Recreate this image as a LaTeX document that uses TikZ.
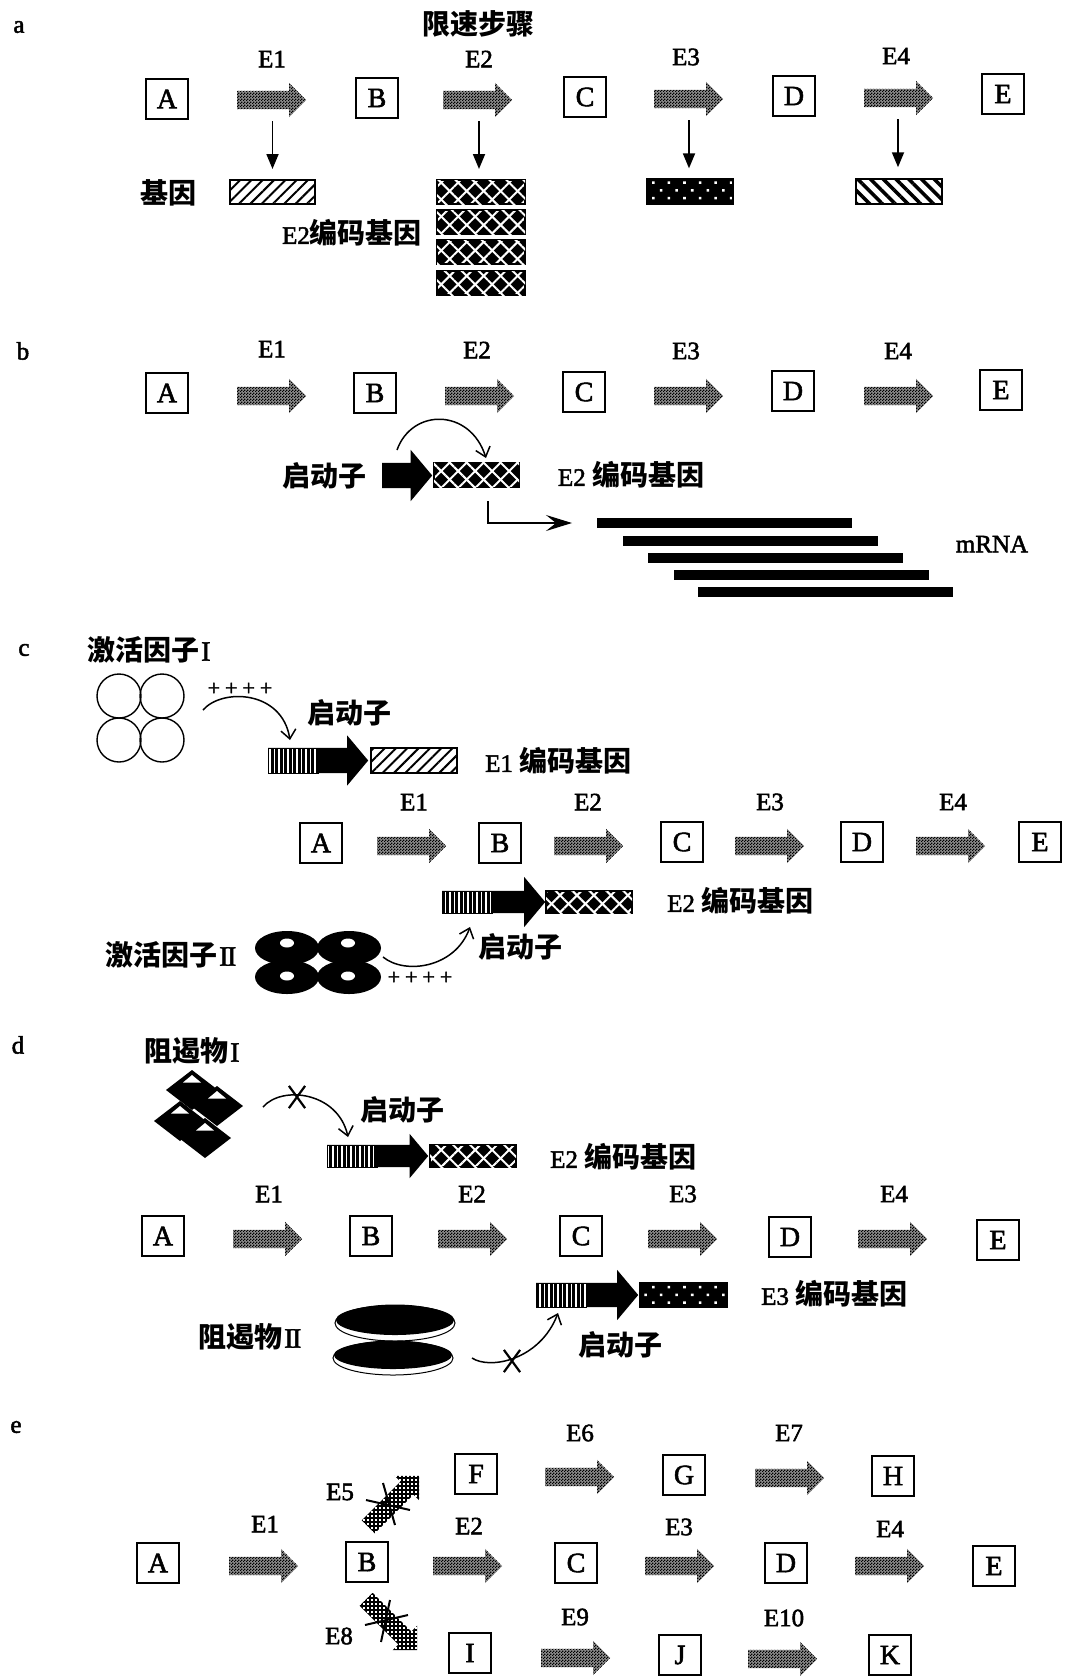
\documentclass[tikz,border=0pt]{standalone}
\usepackage{fontspec}
\setmainfont{Liberation Serif}[FakeBold=2]
\newfontfamily\cjk{Noto Sans CJK SC}
\usetikzlibrary{shapes.arrows,shapes.misc,patterns,patterns.meta,arrows.meta}
\pgfdeclarepatternformonly{checker}{\pgfpointorigin}{\pgfpoint{3pt}{3pt}}{\pgfpoint{3pt}{3pt}}{%
  \pgfpathrectangle{\pgfpointorigin}{\pgfpoint{1.5pt}{1.5pt}}%
  \pgfpathrectangle{\pgfpoint{1.5pt}{1.5pt}}{\pgfpoint{1.5pt}{1.5pt}}%
  \pgfusepath{fill}}
\pgfdeclarepatternformonly{gridfour}{\pgfpoint{-0.1pt}{-0.1pt}}{\pgfpoint{4.1pt}{4.1pt}}{\pgfpoint{4pt}{4pt}}{%
  \pgfsetlinewidth{1.4pt}%
  \pgfpathmoveto{\pgfpoint{0pt}{2pt}}\pgfpathlineto{\pgfpoint{4pt}{2pt}}%
  \pgfpathmoveto{\pgfpoint{2pt}{0pt}}\pgfpathlineto{\pgfpoint{2pt}{4pt}}%
  \pgfusepath{stroke}}
\newcommand\zhtxt[1]{{\cjk\bfseries\fontsize{28}{30}\selectfont #1}}
\begin{document}
\begin{tikzpicture}[x=1pt,y=-1pt,
 lat/.style={font=\fontsize{25}{28}\selectfont, inner sep=0pt},
 sm/.style={font=\fontsize{22}{24}\selectfont, inner sep=0pt},
 cj/.style={font=\fontsize{28}{30}\selectfont\cjk\bfseries, inner sep=0pt},
 box/.style={draw, line width=1.5pt, minimum width=42pt, minimum height=40pt, inner sep=0pt, font=\fontsize{28}{28}\selectfont},
 enz/.style={single arrow, anchor=tail, inner xsep=0pt, inner ysep=9pt, single arrow head extend=8pt, single arrow tip angle=90, minimum height=69pt, preaction={fill=black!45}, pattern=checker, pattern color=black},
 gene/.style={draw, line width=1.3pt, minimum width=86pt, minimum height=24pt, inner sep=0pt},
 gone/.style={gene, pattern={Lines[angle=45,distance=8pt,line width=2pt]}},
 gtwo/.style={gene, preaction={fill=black}, pattern={Lines[angle=45,distance=12pt,line width=2pt]}, pattern color=white,
   postaction={pattern={Lines[angle=-45,distance=12pt,line width=2pt]}, pattern color=white}},
 gthree/.style={gene, preaction={fill=black}, pattern={Dots[radius=1.8pt,distance=11pt,angle=45]}, pattern color=white},
 gfour/.style={gene, pattern={Lines[angle=-45,distance=9pt,line width=3.5pt]}},
 promo/.style={single arrow, anchor=tail, fill=black, inner xsep=0pt, single arrow tip angle=100},
 stripe/.style={draw, line width=1pt, preaction={fill=black}, pattern={Lines[angle=90,distance=4.5pt,line width=1.6pt]}, pattern color=white, inner sep=0pt},
 mbar/.style={fill=black, minimum width=255pt, minimum height=10pt, inner sep=0pt},
 dn/.style={line width=1.8pt, -{Triangle[length=15pt,width=12pt]}},
 cur/.style={line width=1.5pt, -{Straight Barb[length=9pt,width=15pt]}},
 larr/.style={line width=1.5pt, -{Stealth[length=26pt,width=16pt,inset=10pt]}},
 xmark/.style={cross out, draw, line width=2.2pt, minimum width=14pt, minimum height=20pt, inner sep=0pt},
 barred/.style={single arrow, anchor=tail, inner xsep=0pt, inner ysep=9pt, single arrow head extend=8pt, single arrow tip angle=90, minimum height=72pt, pattern=gridfour, pattern color=black}
]
\fill[white] (0,0) rectangle (1065,1676);
\useasboundingbox (0,0) rectangle (1065,1676);

% ================= panel a =================
\node[lat] (la) at (19,27) {a};
\node[cj] (arate) at (478,24) {限速步骤};
\foreach \n/\x/\y/\t in {ae1/272/59/E1, ae2/479/59/E2, ae3/686/57/E3, ae4/896/56/E4}
  \node[lat] (\n) at (\x,\y) {\t};
\node[box] (aA) at (167,99) {A};
\node[box] (aB) at (377,98) {B};
\node[box] (aC) at (585,97) {C};
\node[box] (aD) at (794,96) {D};
\node[box] (aE) at (1003,94) {E};
\node[enz] (aar1) at (237,100) {};
\node[enz] (aar2) at (443,100) {};
\node[enz] (aar3) at (654,99) {};
\node[enz] (aar4) at (864,98) {};
\node[cj] (agene) at (168,193) {基因};
\node[gone, minimum width=85pt] (ag1) at (272.5,192) {};
\node[gtwo, minimum width=88pt] (ag2a) at (481,192) {};
\node[gtwo, minimum width=88pt] (ag2b) at (481,222) {};
\node[gtwo, minimum width=88pt] (ag2c) at (481,252) {};
\node[gtwo, minimum width=88pt] (ag2d) at (481,283) {};
\node[gthree, minimum height=25pt] (ag3) at (690,191.5) {};
\node[gfour, minimum height=25pt] (ag4) at (899,191.5) {};
\node[lat] (acode) at (352,233) {E2\zhtxt{编码基因}};
\draw[dn] ([yshift=58pt]ag1.north) -- ([yshift=10pt]ag1.north);
\draw[dn] ([xshift=-2pt,yshift=58pt]ag2a.north) -- ([xshift=-2pt,yshift=10pt]ag2a.north);
\draw[dn] ([xshift=-1pt,yshift=58pt]ag3.north) -- ([xshift=-1pt,yshift=10pt]ag3.north);
\draw[dn] ([xshift=-1pt,yshift=58pt]ag4.north) -- ([xshift=-1pt,yshift=10pt]ag4.north);

% ================= panel b =================
\node[lat] (lb) at (23,351) {b};
\foreach \n/\x/\y/\t in {be1/272/349/E1, be2/477/350/E2, be3/686/351/E3, be4/898/351/E4}
  \node[lat] (\n) at (\x,\y) {\t};
\node[box] (bA) at (167,393) {A};
\node[box] (bB) at (375,393) {B};
\node[box] (bC) at (584,392) {C};
\node[box] (bD) at (793,391) {D};
\node[box] (bE) at (1001,390) {E};
\node[enz] (bar1) at (237,396) {};
\node[enz] (bar2) at (445,396) {};
\node[enz] (bar3) at (654,396) {};
\node[enz] (bar4) at (864,396) {};
\node[promo, inner ysep=12.5pt, single arrow head extend=13pt, minimum height=50pt] (bp) at (382,475.5) {};
\node[gtwo, minimum width=85pt, minimum height=25pt] (bg) at (476.5,475) {};
\node[cj] (bprom) at (324,476) {启动子};
\node[lat] (bcode) at (631,475) {E2 \zhtxt{编码基因}};
\coordinate (bcs) at (397,450);
\coordinate (bce) at (486,458);
\draw[cur] (bcs) .. controls (412,408) and (470,408) .. (bce);
\coordinate (bLe) at (572,523);
\draw[larr] ([xshift=11.5pt,yshift=-13pt]bg.south) |- (bLe);
\node[mbar] (m1) at (724.5,523) {};
\node[mbar] (m2) at (750,541) {};
\node[mbar] (m3) at (775.5,558) {};
\node[mbar] (m4) at (801,575) {};
\node[mbar] (m5) at (825.5,592) {};
\node[lat] (mrna) at (992,544) {mRNA};

% ================= panel c =================
\node[lat] (lc) at (24,650) {c};
\node[inner sep=0pt] (cact1) at (149,650) {\zhtxt{激活因子}\,\fontsize{28}{28}\selectfont I};
\foreach \cx/\cy in {119/696, 162/696, 119/740, 162/740}
  \draw[line width=1.4pt] (\cx,\cy) circle[radius=22];
\node[sm] (cpl1) at (240,689) {+\hspace{5pt}+\hspace{5pt}+\hspace{5pt}+};
\node[cj] (cprom1) at (349,713) {启动子};
\node[promo, inner ysep=12.5pt, single arrow head extend=12.5pt, minimum height=100pt] (cp1) at (268,760.5) {};
\node[stripe, minimum width=50pt, minimum height=25pt] (cs1) at (293,760.5) {};
\node[gone, minimum height=25pt] (cg1) at (414,760.5) {};
\node[lat, anchor=west] (ccode1) at (485,761) {E1 \zhtxt{编码基因}};
\coordinate (c1s) at (203,710);
\coordinate (c1e) at (290,740);
\draw[cur] (c1s) .. controls (222,688) and (282,690) .. (c1e);

\foreach \n/\x/\y/\t in {ce1/414/802/E1, ce2/588/802/E2, ce3/770/802/E3, ce4/953/802/E4}
  \node[lat] (\n) at (\x,\y) {\t};
\node[box] (cA) at (321,843) {A};
\node[box] (cB) at (500,843) {B};
\node[box] (cC) at (682,842) {C};
\node[box] (cD) at (862,842) {D};
\node[box] (cE) at (1040,842) {E};
\node[enz] (car1) at (377,846) {};
\node[enz] (car2) at (554,846) {};
\node[enz] (car3) at (735,846) {};
\node[enz] (car4) at (916,846) {};

\node[promo, inner ysep=11pt, single arrow head extend=14pt, minimum height=103pt] (cp2) at (442,902) {};
\node[stripe, minimum width=50pt, minimum height=22pt] (cs2) at (467,902) {};
\node[gtwo, minimum height=22pt] (cg2) at (589,902) {};
\node[lat, anchor=west] (ccode2) at (667,901) {E2 \zhtxt{编码基因}};
\node[inner sep=0pt] (cact2) at (171,955) {\zhtxt{激活因子}\,\fontsize{28}{28}\selectfont I\kern-1.5pt I};
\foreach \cx/\cy in {287/948, 349/948, 287/977, 349/977}
  \fill (\cx,\cy) ellipse[x radius=32, y radius=17];
\foreach \cx/\cy in {287/943, 348/943, 287/976, 348/976}
  \fill[white] (\cx,\cy) ellipse[x radius=7, y radius=4.5];
\coordinate (c2s) at (383,957);
\coordinate (c2e) at (470,927);
\draw[cur] (c2s) .. controls (405,975) and (455,968) .. (c2e);
\node[sm] (cpl2) at (420,978) {+\hspace{5pt}+\hspace{5pt}+\hspace{5pt}+};
\node[cj] (cprom2) at (520,947) {启动子};

% ================= panel d =================
\node[lat] (ld) at (18,1045) {d};
\node[inner sep=0pt] (drep1) at (192,1051) {\zhtxt{阻遏物}\,\fontsize{28}{28}\selectfont I};
\foreach \cx/\ty in {192/1070, 217/1086, 180/1101, 205/1118}
  \fill (\cx,\ty) -- (\cx+26,\ty+20) -- (\cx,\ty+40) -- (\cx-26,\ty+20) -- cycle;
\foreach \cx/\ty in {192/1070, 217/1086, 180/1101, 205/1118}
  \fill[white] (\cx,\ty+5) -- (\cx+9,\ty+12.5) -- (\cx-9,\ty+12.5) -- cycle;
\coordinate (d1s) at (263,1107);
\coordinate (d1e) at (348,1137);
\draw[cur] (d1s) .. controls (282,1085) and (338,1092) .. (d1e);
\node[xmark] (dx1) at (297,1097) {};
\node[cj] (dprom1) at (402,1110) {启动子};
\node[promo, inner ysep=11pt, single arrow head extend=11pt, minimum height=101pt] (dp1) at (327,1156) {};
\node[stripe, minimum width=50pt, minimum height=22pt] (ds1) at (352,1156) {};
\node[gtwo, minimum height=22pt] (dg1) at (473,1156) {};
\node[lat, anchor=west] (dcode1) at (550,1157) {E2 \zhtxt{编码基因}};

\foreach \n/\x/\y/\t in {de1/269/1194/E1, de2/472/1194/E2, de3/683/1194/E3, de4/894/1194/E4}
  \node[lat] (\n) at (\x,\y) {\t};
\node[box] (dA) at (163,1236) {A};
\node[box] (dB) at (371,1236) {B};
\node[box] (dC) at (581,1236) {C};
\node[box] (dD) at (790,1237) {D};
\node[box] (dE) at (998,1240) {E};
\node[enz] (dar1) at (233,1239) {};
\node[enz] (dar2) at (438,1239) {};
\node[enz] (dar3) at (648,1239) {};
\node[enz] (dar4) at (858,1239) {};

\node[promo, inner ysep=12pt, single arrow head extend=13pt, minimum height=102pt] (dp2) at (536,1295) {};
\node[stripe, minimum width=50pt, minimum height=24pt] (ds2) at (561,1295) {};
\node[gthree, minimum width=87pt] (dg2) at (683.5,1295) {};
\node[lat, anchor=west] (dcode2) at (761,1294) {E3 \zhtxt{编码基因}};
\node[inner sep=0pt] (drep2) at (250,1337) {\zhtxt{阻遏物}\,\fontsize{28}{28}\selectfont I\kern-1.5pt I};
\filldraw[fill=white, line width=1pt] (395,1323) ellipse[x radius=60, y radius=18];
\fill (395,1320) ellipse[x radius=59, y radius=15];
\filldraw[fill=white, line width=1pt] (393,1358) ellipse[x radius=60, y radius=17];
\fill (393,1355) ellipse[x radius=59, y radius=14];
\coordinate (d2s) at (472,1358);
\coordinate (d2e) at (558,1313);
\draw[cur] (d2s) .. controls (490,1370) and (540,1360) .. (d2e);
\node[xmark] (dx2) at (512,1361) {};
\node[cj] (dprom2) at (620,1345) {启动子};

% ================= panel e =================
\node[lat] (le) at (16,1427) {e};
\foreach \n/\x/\y/\t in {ee6/580/1433/E6, ee7/789/1433/E7,
   ee1/265/1524/E1, ee2/469/1526/E2, ee3/679/1527/E3, ee4/890/1529/E4,
   ee9/575/1617/E9, ee10/784/1618/E10, ee5/340/1492/E5, ee8/339/1636/E8}
  \node[lat] (\n) at (\x,\y) {\t};
\node[box] (eF) at (476,1474) {F};
\node[box] (eG) at (684,1475) {G};
\node[box] (eH) at (893,1476) {H};
\node[box] (eA) at (158,1563) {A};
\node[box] (eB) at (367,1562) {B};
\node[box] (eC) at (576,1563) {C};
\node[box] (eD) at (786,1563) {D};
\node[box] (eE) at (994,1566) {E};
\node[box] (eI) at (470,1653) {I};
\node[box] (eJ) at (680,1655) {J};
\node[box] (eK) at (890,1655) {K};
\node[enz] (ear6) at (545,1477) {};
\node[enz] (ear7) at (755,1478) {};
\node[enz] (ear1) at (229,1566) {};
\node[enz] (ear2) at (433,1566) {};
\node[enz] (ear3) at (645,1566) {};
\node[enz] (ear4) at (855,1566) {};
\node[enz] (ear9) at (541,1658) {};
\node[enz] (ear10) at (748,1659) {};
\node[barred, rotate=45] (ear5) at (368,1527) {};
\node[barred, rotate=-45] (ear8) at (366,1599) {};
\draw[line width=2pt] (366,1500) -- (410,1510);
\draw[line width=2pt] (383,1483) -- (395,1525);
\draw[line width=2pt] (365,1625) -- (408,1615);
\draw[line width=2pt] (390,1600) -- (381,1642);
\end{tikzpicture}
\end{document}
